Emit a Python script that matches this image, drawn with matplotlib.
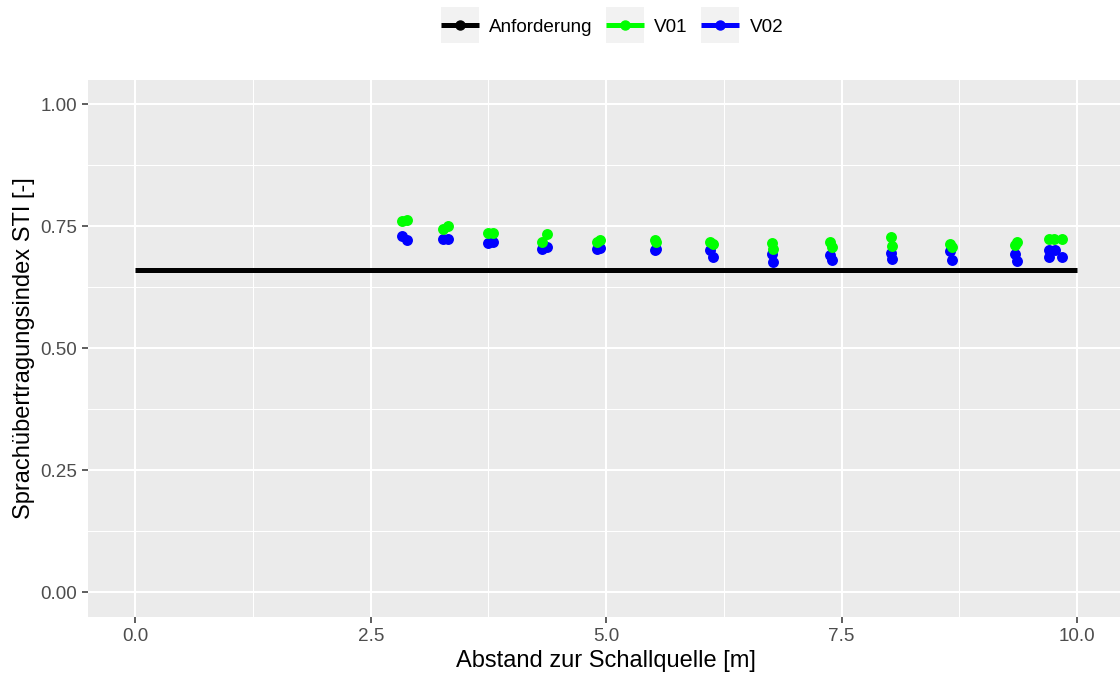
import matplotlib
matplotlib.use("Agg")
import matplotlib.pyplot as plt
from matplotlib.lines import Line2D
from matplotlib.patches import Rectangle
from matplotlib.legend_handler import HandlerLine2D

plt.rcParams['font.family'] = ['Liberation Sans', 'DejaVu Sans']

# --- data ---
req_x = [0.0, 10.0]
req_y = [0.66, 0.66]

v01_x = [2.83, 2.88, 3.27, 3.32, 3.75, 3.80, 4.32, 4.37, 4.90, 4.93,
         5.52, 5.53, 6.10, 6.14, 6.76, 6.77, 7.38, 7.40, 8.03, 8.04,
         8.65, 8.67, 9.34, 9.36, 9.70, 9.76, 9.84]
v01_y = [0.760, 0.764, 0.744, 0.751, 0.736, 0.736, 0.718, 0.734, 0.718, 0.723,
         0.722, 0.718, 0.718, 0.714, 0.715, 0.703, 0.718, 0.708, 0.729, 0.710,
         0.713, 0.707, 0.712, 0.718, 0.724, 0.724, 0.724]

v02_x = [2.83, 2.88, 3.27, 3.32, 3.75, 3.80, 4.32, 4.37, 4.90, 4.93,
         5.52, 5.53, 6.10, 6.14, 6.76, 6.77, 7.38, 7.40, 8.03, 8.04,
         8.65, 8.67, 9.34, 9.36, 9.70, 9.70, 9.77, 9.84]
v02_y = [0.730, 0.723, 0.725, 0.725, 0.716, 0.718, 0.703, 0.708, 0.703, 0.705,
         0.701, 0.703, 0.701, 0.688, 0.693, 0.677, 0.691, 0.681, 0.695, 0.684,
         0.700, 0.681, 0.693, 0.679, 0.701, 0.687, 0.701, 0.687]

series_names = ["Anforderung", "V01", "V02"]
series_colors = ["#000000", "#00FF00", "#0000FF"]

x_ticks = [0.0, 2.5, 5.0, 7.5, 10.0]
x_ticklabels = ["0.0", "2.5", "5.0", "7.5", "10.0"]
y_ticks = [0.00, 0.25, 0.50, 0.75, 1.00]
y_ticklabels = ["0.00", "0.25", "0.50", "0.75", "1.00"]

# --- figure ---
W, H = 1120, 675
fig = plt.figure(figsize=(W / 100, H / 100), dpi=100)
left_px, right_px, top_px, bottom_px = 88.3, 1124.0, 80.0, 616.7
ax = fig.add_axes([left_px / W, 1 - bottom_px / H,
                   (right_px - left_px) / W, (bottom_px - top_px) / H])

ax.set_facecolor("#EBEBEB")
for s in ax.spines.values():
    s.set_visible(False)

ax.set_xlim(-0.5, 10.5)
ax.set_ylim(-0.05, 1.05)
ax.set_xticks(x_ticks)
ax.set_xticklabels(x_ticklabels)
ax.set_yticks(y_ticks)
ax.set_yticklabels(y_ticklabels)
ax.set_xticks([1.25, 3.75, 6.25, 8.75], minor=True)
ax.set_yticks([0.125, 0.375, 0.625, 0.875], minor=True)
ax.grid(which="major", color="white", linewidth=1.5)
ax.grid(which="minor", color="white", linewidth=0.75)
ax.set_axisbelow(True)
ax.tick_params(which="major", length=4, width=1.1, color="#333333",
               labelcolor="#4D4D4D", labelsize=13.6, pad=4)
ax.tick_params(which="minor", length=0)

ax.plot(req_x, req_y, color=series_colors[0], linewidth=3.6,
        solid_capstyle="butt", zorder=3)
ax.scatter(v02_x, v02_y, s=62, color=series_colors[2], linewidths=0, zorder=4)
ax.scatter(v01_x, v01_y, s=62, color=series_colors[1], linewidths=0, zorder=5)

ax.set_xlabel("Abstand zur Schallquelle [m]", fontsize=17, labelpad=4)
ax.set_ylabel("Sprachübertragungsindex STI [-]", fontsize=17, labelpad=4)


class KeyHandler(HandlerLine2D):
    def create_artists(self, legend, orig_handle, xdescent, ydescent,
                       width, height, fontsize, trans):
        cy = (height - ydescent) / 2
        side = 1.9 * fontsize
        rect = Rectangle((-xdescent, cy - side / 2), width, side,
                         facecolor="#F2F2F2", edgecolor="none", transform=trans)
        arts = super().create_artists(legend, orig_handle, xdescent, ydescent,
                                      width, height, fontsize, trans)
        return [rect] + list(arts)


handles = [Line2D([0], [0], color=c, linewidth=3.6, marker="o", markersize=6.5,
                  solid_capstyle="butt") for c in series_colors]
fig.legend(handles, series_names, loc="center", bbox_to_anchor=(612 / W, 1 - 27 / H),
           ncol=3, frameon=False, fontsize=13.6, handlelength=2.0, handleheight=1.0,
           handletextpad=0.55, columnspacing=0.72, borderaxespad=0, borderpad=0,
           handler_map={Line2D: KeyHandler()})

fig.savefig("out.png", dpi=100)
